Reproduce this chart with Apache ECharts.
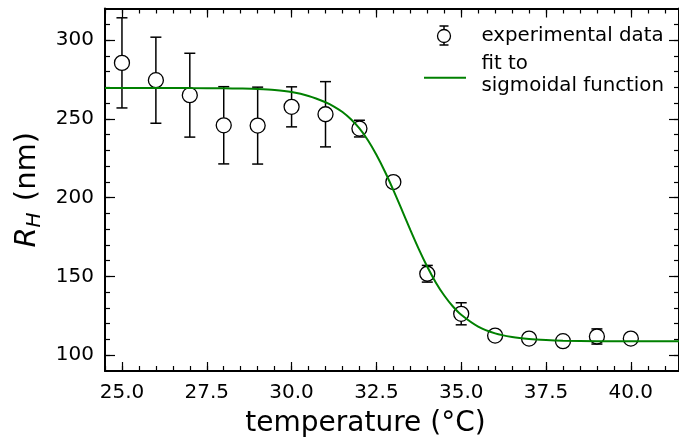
<!DOCTYPE html>
<html><head><meta charset="utf-8">
<script src="https://cdn.jsdelivr.net/npm/echarts@6/dist/echarts.min.js"></script>
<style>html,body{margin:0;padding:0;background:#fff}#c{width:679px;height:443px}</style>
</head><body><div id="c"></div>
<script>
const temps = [25, 26, 27, 28, 29, 30, 31, 32, 33, 34, 35, 36, 37, 38, 39, 40];
const rh    = [285.5, 274.5, 265.0, 245.9, 245.7, 257.6, 252.9, 243.8, 209.9, 151.7, 126.3, 112.5, 110.6, 108.9, 111.9, 110.6];
const rhErr = [28.6, 27.3, 26.6, 24.5, 24.4, 12.7, 20.7, 5.3, 3.0, 5.3, 7.0, 3.0, 2.5, 2.0, 4.8, 2.5];
const fitT = [24.5, 25, 26, 27, 28, 28.5, 29, 29.5, 30, 30.5, 31, 31.25, 31.5, 31.75, 32, 32.25, 32.5, 32.75, 33, 33.25, 33.5, 33.75, 34, 34.25, 34.5, 34.75, 35, 35.5, 36, 36.5, 37, 37.5, 38, 39, 40, 41.5];
const fitR = [269.6, 269.6, 269.6, 269.5, 269.4, 269.2, 268.9, 268.3, 267.0, 264.5, 260.5, 257.8, 254.3, 249.7, 243.9, 236.4, 227.2, 216.6, 204.8, 192.3, 179.5, 167.3, 156.1, 146.2, 137.9, 131.1, 125.7, 118.2, 113.9, 111.6, 110.3, 109.6, 109.2, 108.9, 108.85, 108.8];
const xMajor = [25, 27.5, 30, 32.5, 35, 37.5, 40];
const yMajor = [100, 150, 200, 250, 300];
const xMinor = []; for (let v = 24.5; v <= 41.41; v += 0.5) xMinor.push(+v.toFixed(1));
const yMinor = []; for (let v = 100; v <= 310; v += 10) yMinor.push(v);

const FONT = 'DejaVu Sans';
const XMIN = 24.5, XMAX = 41.42, YMIN = 90, YMAX = 320;

function xAx(pos, major, withLabel) {
  return {
    type: 'value', position: pos, min: XMIN, max: XMAX, gridIndex: 0,
    axisLine: { show: major, onZero: false, lineStyle: { color: '#000', width: 2 } },
    axisTick: { show: true, inside: true, length: major ? 9 : 5, customValues: major ? xMajor : xMinor,
                lineStyle: { color: '#000', width: 1.2 } },
    axisLabel: { show: withLabel, customValues: xMajor, color: '#000', fontSize: 20, fontFamily: FONT, margin: 12,
                 formatter: v => v.toFixed(1) },
    splitLine: { show: false },
    name: withLabel ? 'temperature (°C)' : '',
    nameLocation: 'middle', nameGap: 39,
    nameTextStyle: { color: '#000', fontSize: 28, fontFamily: FONT, padding: [0, 53, 0, 0] }
  };
}
function yAx(pos, major, withLabel) {
  return {
    type: 'value', position: pos, min: YMIN, max: YMAX, gridIndex: 0,
    axisLine: { show: major, onZero: false, lineStyle: { color: '#000', width: 2 } },
    axisTick: { show: true, inside: true, length: major ? 10 : 5, customValues: major ? yMajor : yMinor,
                lineStyle: { color: '#000', width: 1.2 } },
    axisLabel: { show: withLabel, customValues: yMajor, color: '#000', fontSize: 20, fontFamily: FONT, margin: 11 },
    splitLine: { show: false },
    name: withLabel ? '{i|R}{s|H}{n| (nm)}' : '',
    nameLocation: 'middle', nameGap: 58, nameRotate: 90,
    nameTextStyle: {
      color: '#000', fontFamily: FONT, fontSize: 28,
      rich: {
        i: { fontStyle: 'italic', fontSize: 29, fontFamily: FONT, color: '#000' },
        s: { fontStyle: 'italic', fontSize: 20, fontFamily: FONT, color: '#000', verticalAlign: 'bottom', padding: [15, 2, 0, 0] },
        n: { fontSize: 29, fontFamily: FONT, color: '#000' }
      }
    }
  };
}

const chart = echarts.init(document.getElementById('c'), null, { renderer: 'canvas' });
const errData = temps.map((t, i) => [t, rh[i] - rhErr[i], rh[i] + rhErr[i]]);

chart.setOption({
  animation: false,
  backgroundColor: '#fff',
  grid: { left: 105, top: 8.5, right: -2, bottom: 72, containLabel: false },
  xAxis: [xAx('bottom', true, true), xAx('bottom', false, false), xAx('top', true, false), xAx('top', false, false)],
  yAxis: [yAx('left', true, true), yAx('left', false, false), yAx('right', true, false), yAx('right', false, false)],
  series: [
    {
      type: 'custom', name: 'err', xAxisIndex: 0, yAxisIndex: 0, z: 1,
      data: errData,
      renderItem: function (params, api) {
        const x = api.value(0);
        const lo = api.coord([x, api.value(1)]);
        const hi = api.coord([x, api.value(2)]);
        const cw = 5.5;
        const st = { stroke: '#000', lineWidth: 1.5 };
        return { type: 'group', children: [
          { type: 'line', shape: { x1: lo[0], y1: lo[1], x2: hi[0], y2: hi[1] }, style: st },
          { type: 'line', shape: { x1: lo[0] - cw, y1: lo[1], x2: lo[0] + cw, y2: lo[1] }, style: st },
          { type: 'line', shape: { x1: hi[0] - cw, y1: hi[1], x2: hi[0] + cw, y2: hi[1] }, style: st }
        ]};
      }
    },
    {
      type: 'scatter', name: 'experimental data', z: 2,
      data: temps.map((t, i) => [t, rh[i]]),
      symbol: 'circle', symbolSize: 15,
      itemStyle: { color: '#fff', borderColor: '#000', borderWidth: 1.3, opacity: 1 }
    },
    {
      type: 'line', name: 'fit to sigmoidal function', z: 3,
      data: fitT.map((t, i) => [t, fitR[i]]),
      showSymbol: false, symbol: 'none', smooth: 0.3,
      lineStyle: { color: '#008000', width: 2 }
    }
  ],
  graphic: [
    { type: 'line', shape: { x1: 444, y1: 26, x2: 444, y2: 45 }, style: { stroke: '#000', lineWidth: 1.5 }, z: 10 },
    { type: 'line', shape: { x1: 439.5, y1: 26, x2: 448.5, y2: 26 }, style: { stroke: '#000', lineWidth: 1.5 }, z: 10 },
    { type: 'line', shape: { x1: 439.5, y1: 45, x2: 448.5, y2: 45 }, style: { stroke: '#000', lineWidth: 1.5 }, z: 10 },
    { type: 'circle', shape: { cx: 444, cy: 36, r: 6.5 }, style: { fill: '#fff', stroke: '#000', lineWidth: 1.3 }, z: 11 },
    { type: 'text', x: 481.5, y: 36, style: { text: 'experimental data', fill: '#000', fontSize: 19.8, fontFamily: FONT, verticalAlign: 'middle', align: 'left' }, z: 10 },
    { type: 'line', shape: { x1: 424, y1: 77.7, x2: 466, y2: 77.7 }, style: { stroke: '#008000', lineWidth: 2 }, z: 10 },
    { type: 'text', x: 481.5, y: 63.8, style: { text: 'fit to', fill: '#000', fontSize: 19.8, fontFamily: FONT, verticalAlign: 'middle', align: 'left' }, z: 10 },
    { type: 'text', x: 481.5, y: 85.8, style: { text: 'sigmoidal function', fill: '#000', fontSize: 19.8, fontFamily: FONT, verticalAlign: 'middle', align: 'left' }, z: 10 }
  ]
});
</script></body></html>
